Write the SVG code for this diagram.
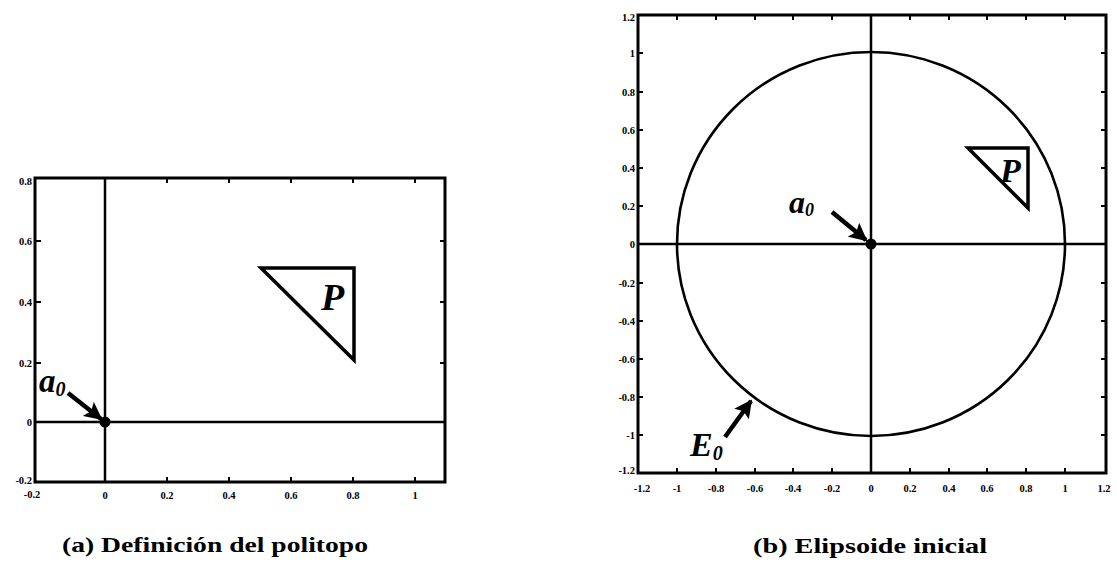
<svg xmlns="http://www.w3.org/2000/svg" width="1117" height="567" viewBox="0 0 1117 567">
<style>
.frame{fill:none;stroke:#000;stroke-width:3}
.axis{stroke:#000;stroke-width:2.5;fill:none}
.tick{stroke:#000;stroke-width:2}
.tl{font-family:"Liberation Serif","Times New Roman",serif;font-weight:bold;font-size:10.5px;fill:#000}
.tlr{text-anchor:end}
.tlm{text-anchor:middle}
.lbl{font-family:"Liberation Serif","Times New Roman",serif;font-weight:bold;font-style:italic;fill:#000}
.cap{font-family:"Liberation Serif","Times New Roman",serif;font-weight:bold;font-size:22px;fill:#000}
.poly{fill:#fff;stroke:#000;stroke-width:3.5;stroke-linejoin:miter}
.ell{fill:none;stroke:#000;stroke-width:2.6}
.conn{stroke:#000;stroke-width:4.5;fill:none;marker-end:url(#ah)}
</style>
<defs>
<marker id="ah" viewBox="0 0 10 10" refX="9" refY="5" markerWidth="4" markerHeight="4" orient="auto" markerUnits="strokeWidth">
<path d="M0,0 L10,5 L0,10 L2,5 Z" fill="#000"/>
</marker>
</defs>
<rect width="1117" height="567" fill="#fff"/>

<g id="plot-a">
<rect class="frame" x="35" y="178" width="410" height="304"/>
<line class="axis" x1="35" y1="422" x2="445" y2="422"/>
<line class="axis" x1="105" y1="178" x2="105" y2="482"/>
<g class="tick">
<line x1="167" y1="482" x2="167" y2="477"/><line x1="229" y1="482" x2="229" y2="477"/><line x1="291" y1="482" x2="291" y2="477"/><line x1="353" y1="482" x2="353" y2="477"/><line x1="415" y1="482" x2="415" y2="477"/>
<line x1="167" y1="178" x2="167" y2="183"/><line x1="229" y1="178" x2="229" y2="183"/><line x1="291" y1="178" x2="291" y2="183"/><line x1="353" y1="178" x2="353" y2="183"/><line x1="415" y1="178" x2="415" y2="183"/>
<line x1="35" y1="241" x2="41" y2="241"/><line x1="35" y1="302" x2="41" y2="302"/><line x1="35" y1="363" x2="41" y2="363"/>
<line x1="445" y1="241" x2="440" y2="241"/><line x1="445" y1="302" x2="440" y2="302"/><line x1="445" y1="363" x2="440" y2="363"/>
</g>
<g class="tl tlr">
<text x="32" y="185">0.8</text><text x="32" y="245">0.6</text><text x="32" y="306">0.4</text><text x="32" y="367">0.2</text><text x="32" y="426">0</text><text x="32" y="484">-0.2</text>
</g>
<g class="tl tlm">
<text x="32" y="498">-0.2</text><text x="105" y="499">0</text><text x="167" y="499">0.2</text><text x="229" y="499">0.4</text><text x="291" y="499">0.6</text><text x="353" y="499">0.8</text><text x="415" y="499">1</text>
</g>
<text class="cap" x="215" y="552" text-anchor="middle" textLength="306" lengthAdjust="spacingAndGlyphs">(a) Definición del politopo</text>
</g>

<g id="node-P-a">
<polygon class="poly" points="261,268 354,268 354,360"/>
<text class="lbl" x="321" y="310" font-size="38">P</text>
</g>
<g id="node-a0-a">
<circle cx="105" cy="422" r="5.5" fill="#000"/>
<text class="lbl" x="39" y="392" font-size="33" font-weight="normal">a<tspan font-size="20" dy="4">0</tspan></text>
</g>

<g id="plot-b">
<rect class="frame" x="638" y="15" width="468" height="458"/>
<line class="axis" x1="638" y1="244" x2="1106" y2="244"/>
<line class="axis" x1="871" y1="15" x2="871" y2="473"/>
<g class="tick">
<line x1="677" y1="473" x2="677" y2="468"/><line x1="716" y1="473" x2="716" y2="468"/><line x1="755" y1="473" x2="755" y2="468"/><line x1="793" y1="473" x2="793" y2="468"/><line x1="832" y1="473" x2="832" y2="468"/><line x1="910" y1="473" x2="910" y2="468"/><line x1="949" y1="473" x2="949" y2="468"/><line x1="987" y1="473" x2="987" y2="468"/><line x1="1026" y1="473" x2="1026" y2="468"/><line x1="1065" y1="473" x2="1065" y2="468"/>
<line x1="677" y1="15" x2="677" y2="20"/><line x1="716" y1="15" x2="716" y2="20"/><line x1="755" y1="15" x2="755" y2="20"/><line x1="793" y1="15" x2="793" y2="20"/><line x1="832" y1="15" x2="832" y2="20"/><line x1="910" y1="15" x2="910" y2="20"/><line x1="949" y1="15" x2="949" y2="20"/><line x1="987" y1="15" x2="987" y2="20"/><line x1="1026" y1="15" x2="1026" y2="20"/><line x1="1065" y1="15" x2="1065" y2="20"/>
<line x1="638" y1="53" x2="643" y2="53"/><line x1="638" y1="92" x2="643" y2="92"/><line x1="638" y1="130" x2="643" y2="130"/><line x1="638" y1="168" x2="643" y2="168"/><line x1="638" y1="206" x2="643" y2="206"/><line x1="638" y1="283" x2="643" y2="283"/><line x1="638" y1="321" x2="643" y2="321"/><line x1="638" y1="359" x2="643" y2="359"/><line x1="638" y1="397" x2="643" y2="397"/><line x1="638" y1="435" x2="643" y2="435"/>
<line x1="1106" y1="53" x2="1101" y2="53"/><line x1="1106" y1="92" x2="1101" y2="92"/><line x1="1106" y1="130" x2="1101" y2="130"/><line x1="1106" y1="168" x2="1101" y2="168"/><line x1="1106" y1="206" x2="1101" y2="206"/><line x1="1106" y1="283" x2="1101" y2="283"/><line x1="1106" y1="321" x2="1101" y2="321"/><line x1="1106" y1="359" x2="1101" y2="359"/><line x1="1106" y1="397" x2="1101" y2="397"/><line x1="1106" y1="435" x2="1101" y2="435"/>
</g>
<g class="tl tlr">
<text x="635" y="21">1.2</text><text x="635" y="57">1</text><text x="635" y="96">0.8</text><text x="635" y="134">0.6</text><text x="635" y="172">0.4</text><text x="635" y="210">0.2</text><text x="635" y="248">0</text><text x="635" y="287">-0.2</text><text x="635" y="325">-0.4</text><text x="635" y="363">-0.6</text><text x="635" y="401">-0.8</text><text x="635" y="439">-1</text><text x="635" y="474">-1.2</text>
</g>
<g class="tl tlm">
<text x="642" y="492">-1.2</text><text x="677" y="492">-1</text><text x="716" y="492">-0.8</text><text x="755" y="492">-0.6</text><text x="793" y="492">-0.4</text><text x="832" y="492">-0.2</text><text x="871" y="492">0</text><text x="910" y="492">0.2</text><text x="949" y="492">0.4</text><text x="987" y="492">0.6</text><text x="1026" y="492">0.8</text><text x="1065" y="492">1</text><text x="1104" y="492">1.2</text>
</g>
<text class="cap" x="870" y="553" text-anchor="middle" textLength="234" lengthAdjust="spacingAndGlyphs">(b) Elipsoide inicial</text>
</g>

<g id="node-E0">
<ellipse class="ell" cx="871" cy="244" rx="194" ry="192"/>
<text class="lbl" x="690" y="456" font-size="34">E<tspan font-size="20" dy="4">0</tspan></text>
</g>
<g id="node-P-b">
<polygon class="poly" points="968,148 1028,148 1028,208"/>
<text class="lbl" x="1000" y="182" font-size="34">P</text>
</g>
<g id="node-a0-b">
<circle cx="871" cy="244" r="5.5" fill="#000"/>
<text class="lbl" x="789" y="213" font-size="32">a<tspan font-size="18" dy="3">0</tspan></text>
</g>

<g id="connectors">
<line class="conn" x1="68" y1="393" x2="101" y2="419"/>
<line class="conn" x1="832" y1="212" x2="866" y2="240"/>
<line class="conn" x1="725" y1="437" x2="751" y2="401"/>
</g>
</svg>
